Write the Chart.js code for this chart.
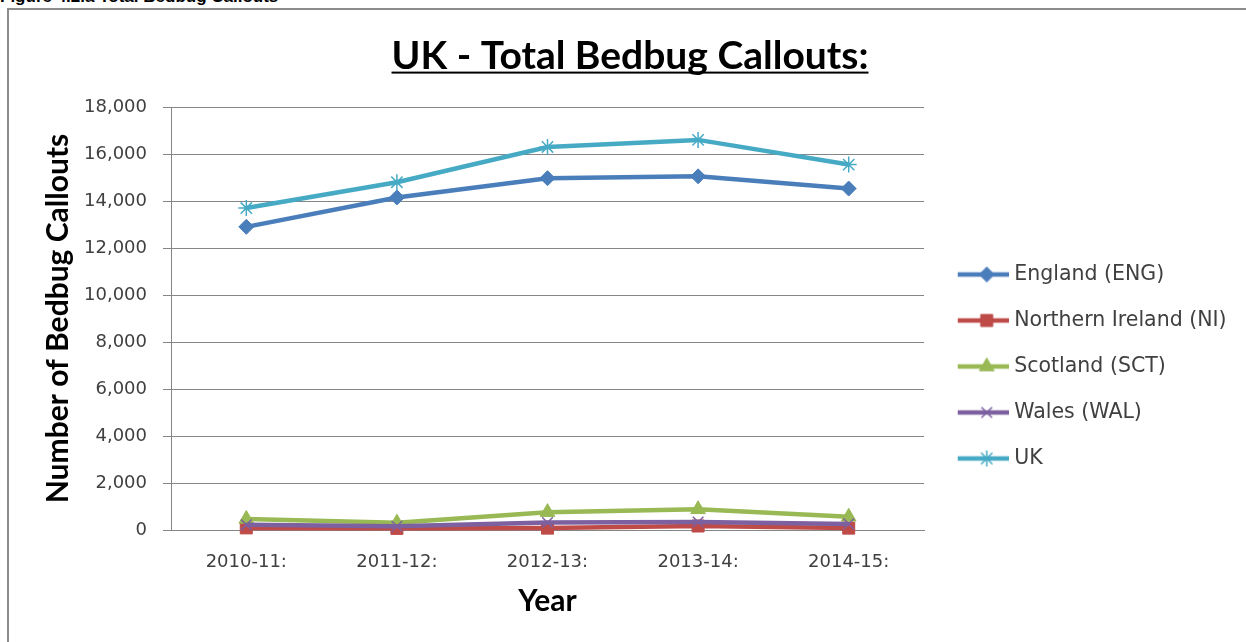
<!DOCTYPE html>
<html>
<head>
<meta charset="utf-8">
<script src="https://cdn.jsdelivr.net/npm/chart.js@4.4.0/dist/chart.umd.min.js"></script>
<style>
  html, body { margin: 0; padding: 0; background: #fff; overflow: hidden; }
  #caption { position: absolute; left: 0; top: -13px; font: bold 17px "Liberation Sans", Arial, sans-serif; color: #000; white-space: nowrap; }
  #frame { position: absolute; left: 7px; top: 8px; width: 1300px; height: 700px; border: 2px solid #8c8c8c; }
  #chart { position: absolute; left: 0; top: 0; }
</style>
</head>
<body>
<div id="caption">Figure 4.2.a Total Bedbug Callouts</div>
<div id="frame"></div>
<canvas id="chart" width="1246" height="642"></canvas>
<script>
const years = ["2010-11:", "2011-12:", "2012-13:", "2013-14:", "2014-15:"];
const england = [12900, 14150, 14970, 15050, 14530];
const northernIreland = [90, 70, 80, 170, 80];
const scotland = [470, 310, 760, 880, 560];
const wales = [220, 160, 320, 340, 260];
const uk = [13700, 14800, 16300, 16600, 15550];
const seriesNames = ["England (ENG)", "Northern Ireland (NI)", "Scotland (SCT)", "Wales (WAL)", "UK"];
const yTicks = [0, 2000, 4000, 6000, 8000, 10000, 12000, 14000, 16000, 18000];

const colors = ["#4a7ebb", "#be4b48", "#98b954", "#7d60a0", "#46aac5"];
const markers = [
  { style: "rectRot", radius: 7.5, border: 1 },
  { style: "rect", radius: 8.5, border: 1 },
  { style: "triangle", radius: 8.5, border: 1 },
  { style: "crossRot", radius: 7.5, border: 1.5 },
  { style: "star", radius: 8, border: 1.5 }
];
const gridColor = "#868686";
const textColor = "#404040";

// little line + marker picture for each legend entry (Excel style)
function legendIcon(color, m) {
  const c = document.createElement("canvas");
  c.width = 64; c.height = 20;
  const ctx = c.getContext("2d");
  ctx.strokeStyle = color;
  ctx.lineWidth = 4.5;
  ctx.beginPath(); ctx.moveTo(13, 10); ctx.lineTo(64, 10); ctx.stroke();
  ctx.fillStyle = color;
  ctx.lineWidth = m.border;
  Chart.helpers.drawPoint(ctx, { pointStyle: m.style, radius: m.radius, borderWidth: m.border, rotation: 0 }, 42, 10);
  return c;
}
const icons = colors.map((c, i) => legendIcon(c, markers[i]));

function makeSet(i, data) {
  return {
    label: seriesNames[i],
    data: data,
    borderColor: colors[i],
    backgroundColor: colors[i],
    borderWidth: 4.5,
    pointStyle: markers[i].style,
    pointRadius: markers[i].radius,
    pointHoverRadius: markers[i].radius,
    pointBorderWidth: markers[i].border,
    pointBackgroundColor: colors[i],
    pointBorderColor: colors[i],
    tension: 0,
    fill: false,
    clip: false,
    order: 5 - i
  };
}

const legendWidthFix = {
  id: "legendWidthFix",
  beforeLayout(chart) {
    const lg = chart.legend;
    if (lg && !lg._fixed) {
      const fit = lg.fit;
      lg.fit = function () { fit.call(this); this.width = 322; };
      lg._fixed = true;
    }
  }
};

const titleUnderline = {
  id: "titleUnderline",
  afterDraw(chart) {
    const t = chart.titleBlock;
    const opts = chart.options.plugins.title;
    const font = Chart.helpers.toFont(opts.font);
    const ctx = chart.ctx;
    ctx.save();
    ctx.font = font.string;
    const w = ctx.measureText(opts.text).width;
    const cx = (t.left + t.right) / 2;
    const cy = t.top + opts.padding.top + font.lineHeight / 2;
    ctx.fillStyle = "#000";
    ctx.fillRect(cx - w / 2, cy + 0.4 * font.size, w, 2);
    ctx.restore();
  }
};

new Chart(document.getElementById("chart"), {
  type: "line",
  data: {
    labels: years,
    datasets: [
      makeSet(0, england),
      makeSet(1, northernIreland),
      makeSet(2, scotland),
      makeSet(3, wales),
      makeSet(4, uk)
    ]
  },
  options: {
    responsive: false,
    animation: false,
    layout: { padding: { left: 14, right: 0, top: 0, bottom: 0 } },
    plugins: {
      title: {
        display: true,
        text: "UK - Total Bedbug Callouts:",
        color: "#000",
        font: { family: "Lato", weight: "bold", size: 39 },
        padding: { top: 32.6, bottom: 27.6 }
      },
      legend: {
        position: "right",
        align: "center",
        title: { display: true, text: " ", font: { size: 10 }, padding: { top: 79, bottom: 0 } },
        labels: {
          usePointStyle: true,
          pointStyleWidth: 54.5,
          padding: 25.5,
          color: textColor,
          font: { family: "DejaVu Sans", size: 20.5 },
          sort: (a, b) => a.datasetIndex - b.datasetIndex,
          generateLabels(chart) {
            const items = Chart.defaults.plugins.legend.labels.generateLabels(chart);
            items.forEach(it => { it.pointStyle = icons[it.datasetIndex]; });
            return items;
          }
        }
      },
      tooltip: { enabled: false }
    },
    scales: {
      x: {
        offset: true,
        grid: { display: false, drawTicks: false, offset: true },
        border: { display: true, color: gridColor },
        ticks: { color: textColor, font: { family: "DejaVu Sans", size: 18 }, padding: 22, maxRotation: 0, autoSkip: false },
        title: { display: true, text: "Year", color: "#000", font: { family: "Lato", weight: "bold", size: 30 }, padding: { top: 0, bottom: 23 } },
        afterFit(s) { s.height = 112; }
      },
      y: {
        min: 0,
        max: 18000,
        afterBuildTicks(s) { s.ticks = yTicks.map(v => ({ value: v })); },
        ticks: { color: textColor, font: { family: "DejaVu Sans", size: 18 }, padding: 16, callback: v => v.toLocaleString("en-US") },
        grid: { color: gridColor, tickLength: 8 },
        border: { color: gridColor },
        title: { display: true, text: "Number of Bedbug Callouts", color: "#000", font: { family: "Lato", weight: "bold", size: 30 }, padding: { top: 26, bottom: 0 } },
        afterFit(s) { s.width = 157; }
      }
    }
  },
  plugins: [legendWidthFix, titleUnderline]
});
</script>
</body>
</html>
